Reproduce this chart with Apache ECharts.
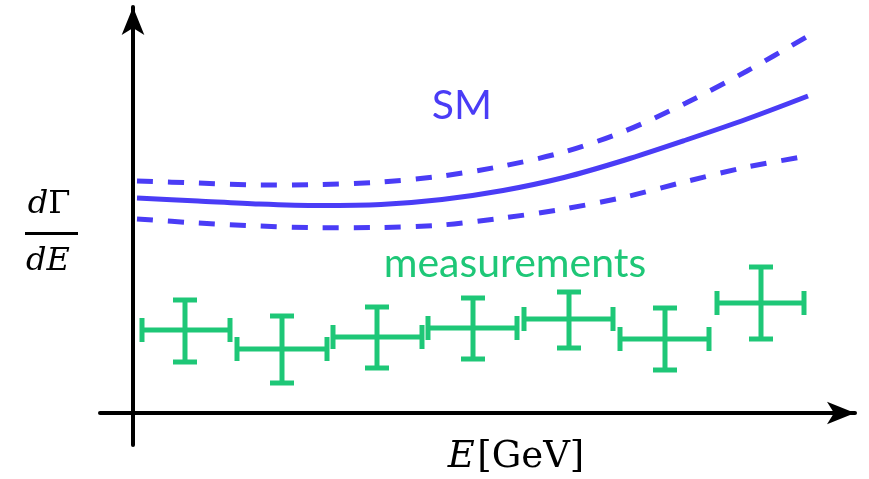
<!DOCTYPE html>
<html>
<head>
<meta charset="utf-8">
<script src="https://cdn.jsdelivr.net/npm/echarts@6/dist/echarts.min.js"></script>
<style>
html,body{margin:0;padding:0;background:#fff;}
#chart{width:869px;height:479px;}
</style>
</head>
<body>
<div id="chart"></div>
<script>
// Standard-model prediction (central curve and band edges), arbitrary units
const curveX = [0.4, 6.5, 12.6, 18.7, 24.8, 30.9, 37.0, 43.1, 49.2, 55.3, 61.4, 67.5];
const smY    = [21.5, 21.2, 20.9, 20.75, 20.85, 21.35, 22.25, 23.55, 25.3, 27.3, 29.4, 31.7];
const upY    = [23.2, 23.0, 22.8, 22.85, 23.1, 23.7, 24.7, 26.1, 28.2, 31.0, 34.2, 37.7];
const loY    = [19.4, 19.0, 18.7, 18.53, 18.55, 18.8, 19.5, 20.4, 21.6, 23.15, 24.6, 25.7];

// Measurements: bin centre, bin edges, value, lower / upper error
const binCenter = [5.2, 14.9, 24.4, 34.0, 43.6, 53.2, 62.8];
const binLow    = [0.9, 10.4, 20.0, 29.5, 39.1, 48.7, 58.4];
const binHigh   = [9.7, 19.4, 28.9, 38.4, 48.0, 57.6, 67.1];
const measY     = [8.3, 6.4, 7.6, 8.5, 9.4, 7.4, 11.0];
const measYLow  = [5.1, 3.0, 4.5, 5.4, 6.5, 4.3, 7.4];
const measYHigh = [11.3, 9.7, 10.6, 11.5, 12.1, 10.5, 14.6];

const BLUE = '#4a3cf6';
const GREEN = '#1ec777';

const pairs = (xs, ys) => xs.map((x, i) => [x, ys[i]]);
const measData = binCenter.map((x, i) => [x, measY[i], binLow[i], binHigh[i], measYLow[i], measYHigh[i]]);

const chart = echarts.init(document.getElementById('chart'), null, {renderer: 'canvas'});

const axisCommon = {
  type: 'value',
  axisLine: {show: true, onZero: true, symbol: ['none', 'arrow'], symbolSize: [17, 28],
             lineStyle: {color: '#000', width: 4}},
  axisTick: {show: false},
  axisLabel: {show: false},
  splitLine: {show: false}
};

chart.setOption({
  backgroundColor: '#fff',
  animation: false,
  grid: {left: 100, right: 14, top: 7, bottom: 34, outerBoundsMode: 'none', containLabel: false},
  xAxis: Object.assign({}, axisCommon, {min: -3.3, max: 72.2}),
  yAxis: Object.assign({}, axisCommon, {min: -3.2, max: 40.6}),
  series: [
    {type: 'line', data: pairs(curveX, smY), smooth: 0.3, showSymbol: false, z: 3,
     lineStyle: {color: BLUE, width: 5}},
    {type: 'line', data: pairs(curveX, upY), smooth: 0.3, showSymbol: false, z: 3,
     lineStyle: {color: BLUE, width: 5, type: [16, 15]}},
    {type: 'line', data: pairs(curveX, loY), smooth: 0.3, showSymbol: false, z: 3,
     lineStyle: {color: BLUE, width: 5, type: [16, 15]}},
    {type: 'custom', data: measData, z: 4,
     renderItem: function (params, api) {
       const x = api.value(0), y = api.value(1);
       const c = api.coord([x, y]);
       const pl = api.coord([api.value(2), y]);
       const ph = api.coord([api.value(3), y]);
       const vl = api.coord([x, api.value(4)]);
       const vh = api.coord([x, api.value(5)]);
       const cap = 12;
       const st = {stroke: GREEN, lineWidth: 5, lineCap: 'butt'};
       const ln = (x1, y1, x2, y2) => ({type: 'line', shape: {x1, y1, x2, y2}, style: st});
       return {type: 'group', children: [
         ln(pl[0], c[1], ph[0], c[1]),
         ln(c[0], vl[1], c[0], vh[1]),
         ln(pl[0], c[1] - cap, pl[0], c[1] + cap),
         ln(ph[0], c[1] - cap, ph[0], c[1] + cap),
         ln(c[0] - cap, vl[1], c[0] + cap, vl[1]),
         ln(c[0] - cap, vh[1], c[0] + cap, vh[1])
       ]};
     }}
  ],
  graphic: [
    {type: 'text', x: 462, y: 106, style: {text: 'SM', fill: BLUE, font: '41px Lato', align: 'center', verticalAlign: 'middle'}},
    {type: 'text', x: 515, y: 264, style: {text: 'measurements', fill: GREEN, font: '41px Lato', align: 'center', verticalAlign: 'middle'}},
    {type: 'text', x: 49, y: 205, style: {
      text: '{i|d}{n|Γ}', align: 'center', verticalAlign: 'middle',
      rich: {i: {font: 'italic 32px "DejaVu Serif"', fill: '#000'}, n: {font: '32px "DejaVu Serif"', fill: '#000'}}}},
    {type: 'rect', shape: {x: 25, y: 232, width: 53, height: 3}, style: {fill: '#000'}},
    {type: 'text', x: 48, y: 262, style: {
      text: '{i|dE}', align: 'center', verticalAlign: 'middle',
      rich: {i: {font: 'italic 32px "DejaVu Serif"', fill: '#000'}}}},
    {type: 'text', x: 516, y: 457, style: {
      text: '{i|E}{s| }{n|[GeV]}', align: 'center', verticalAlign: 'middle',
      rich: {i: {font: 'italic 37px "DejaVu Serif"', fill: '#000'}, s: {font: '8px "DejaVu Serif"'}, n: {font: '37px "DejaVu Serif"', fill: '#000'}}}}
  ]
});
</script>
</body>
</html>
